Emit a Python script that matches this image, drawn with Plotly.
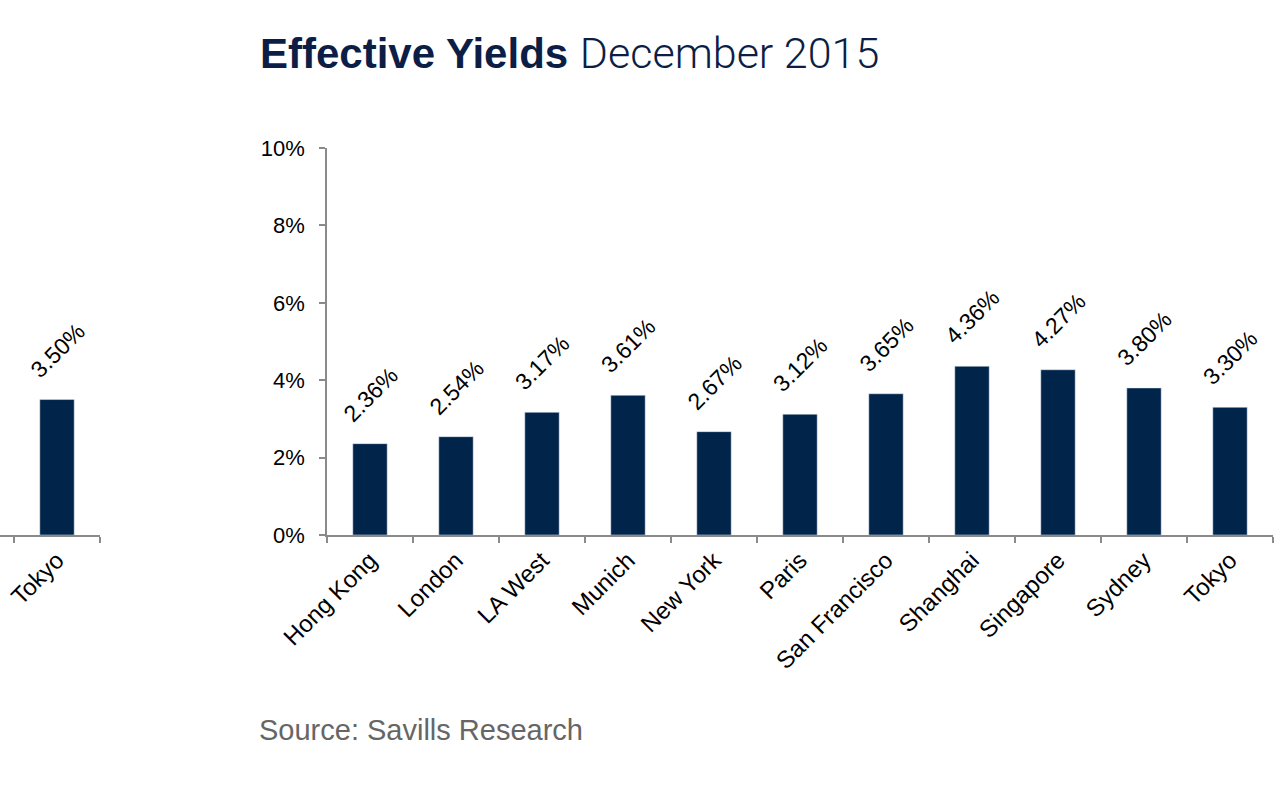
import plotly.graph_objects as go

categories = ["Hong Kong", "London", "LA West", "Munich", "New York", "Paris",
              "San Francisco", "Shanghai", "Singapore", "Sydney", "Tokyo"]
yields = [2.36, 2.54, 3.17, 3.61, 2.67, 3.12, 3.65, 4.36, 4.27, 3.80, 3.30]

left_categories = ["Tokyo"]
left_yields = [3.50]

y_ticks = [0, 2, 4, 6, 8, 10]
y_tick_labels = ["0%", "2%", "4%", "6%", "8%", "10%"]

W, H = 1280, 800
ML, MR, MT, MB = 0, 7, 148, 265
PW = W - ML - MR
PH = H - MT - MB

BAR = "#01244a"
AXIS = "#8a8a8a"
FONT = "Liberation Sans, Arial, sans-serif"

fig = go.Figure()
fig.add_trace(go.Bar(x=categories, y=yields, marker_color=BAR, width=0.4,
                     xaxis="x", yaxis="y", hoverinfo="skip"))
fig.add_trace(go.Bar(x=left_categories, y=left_yields, marker_color=BAR, width=0.4,
                     xaxis="x2", yaxis="y2", hoverinfo="skip"))

annotations = []
for c, v in zip(categories, yields):
    annotations.append(dict(x=c, y=v, xref="x", yref="y", text=f"{v:.2f}%",
                            textangle=-45, showarrow=False, xanchor="center",
                            yanchor="middle", yshift=49,
                            font=dict(size=23, color="#000", family=FONT)))
for c, v in zip(left_categories, left_yields):
    annotations.append(dict(x=c, y=v, xref="x2", yref="y2", text=f"{v:.2f}%",
                            textangle=-45, showarrow=False, xanchor="center",
                            yanchor="middle", yshift=49,
                            font=dict(size=23, color="#000", family=FONT)))

annotations.append(dict(
    xref="paper", yref="paper", x=(258 - ML) / PW, y=(MT + PH - 53) / PH,
    xanchor="left", yanchor="middle", showarrow=False,
    text="<b>Effective Yields</b> <span style='font-family:Roboto;font-weight:300;font-size:43px'>December 2015</span>",
    font=dict(size=42, color="#0c1e45", family=FONT)))
annotations.append(dict(
    xref="paper", yref="paper", x=(257 - ML) / PW, y=(MT + PH - 730) / PH,
    xanchor="left", yanchor="middle", showarrow=False,
    text="Source: Savills Research",
    font=dict(size=29, color="#666666", family=FONT)))

fig.update_layout(
    width=W, height=H,
    margin=dict(l=ML, r=MR, t=MT, b=MB, autoexpand=False),
    paper_bgcolor="white", plot_bgcolor="white",
    showlegend=False,
    font=dict(family=FONT, size=22, color="#000"),
    annotations=annotations,
    xaxis=dict(domain=[(327 - ML) / PW, 1], range=[-0.5, len(categories) - 0.5],
               type="category", showline=True, linecolor=AXIS, linewidth=1.5,
               ticks="outside", tickson="boundaries", ticklen=6, tickcolor=AXIS,
               tickwidth=1.5, tickangle=-45, showgrid=False, zeroline=False,
               anchor="y", tickfont=dict(size=24), automargin=False),
    yaxis=dict(range=[0, 10], tickvals=y_ticks, ticktext=y_tick_labels,
               showline=True, linecolor=AXIS, linewidth=1.5, ticks="outside",
               ticklen=6, tickcolor=AXIS, tickwidth=1.5, showgrid=False,
               zeroline=False, anchor="x", tickfont=dict(size=22), automargin=False,
               ticklabelstandoff=10),
    xaxis2=dict(domain=[0, (100 - ML) / PW], range=[-0.663, 0.5], type="category",
                showline=True, linecolor=AXIS, linewidth=1.5, ticks="outside",
                tickson="boundaries", ticklen=6, tickcolor=AXIS, tickwidth=1.5,
                tickangle=-45, showgrid=False, zeroline=False, anchor="y2",
                tickfont=dict(size=24), automargin=False),
    yaxis2=dict(range=[0, 10], visible=False, anchor="x2", automargin=False),
)

fig.write_html("out.html")
